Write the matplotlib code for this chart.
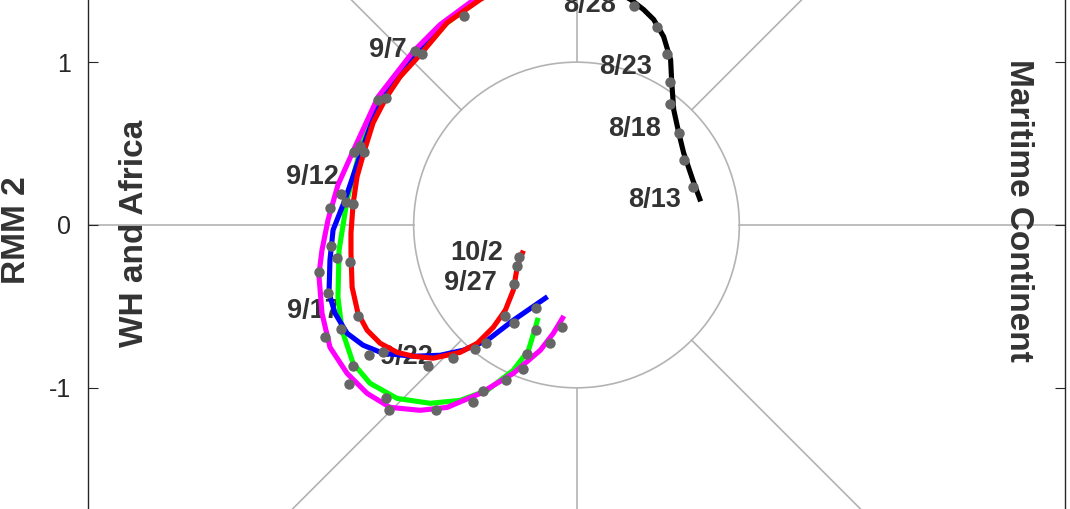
import numpy as np
import matplotlib
matplotlib.use('Agg')
import matplotlib.pyplot as plt
from matplotlib.patches import Circle

plt.rcParams['font.family'] = ['Liberation Sans', 'DejaVu Sans']
plt.rcParams['axes.unicode_minus'] = False

### RMM trajectories (RMM1, RMM2)
black_x = [0.757, 0.714, 0.658, 0.628, 0.597, 0.585, 0.578, 0.535, 0.474, 0.412, 0.332, 0.20, 0.0]
black_y = [0.160, 0.277, 0.443, 0.566, 0.708, 0.874, 1.015, 1.157, 1.262, 1.323, 1.385, 1.46, 1.52]

red_x = [-0.35, -0.591, -0.794, -0.960, -1.083, -1.169, -1.249, -1.305, -1.348, -1.372, -1.385, -1.385,
         -1.378, -1.342, -1.286, -1.206, -1.102, -1.003, -0.880, -0.714, -0.609, -0.511, -0.437, -0.388,
         -0.363, -0.332]
red_y = [1.52, 1.385, 1.243, 1.046, 0.911, 0.782, 0.628, 0.449, 0.295, 0.129, -0.049, -0.172,
         -0.382, -0.542, -0.646, -0.726, -0.782, -0.806, -0.818, -0.782, -0.726, -0.628, -0.523, -0.400,
         -0.252, -0.172]

magenta_x = [-0.40, -0.628, -0.837, -1.003, -1.218, -1.360, -1.465, -1.526, -1.563, -1.582, -1.563,
             -1.514, -1.409, -1.286, -1.145, -0.960, -0.794, -0.591, -0.388, -0.222, -0.142, -0.086]
magenta_y = [1.50, 1.385, 1.231, 1.065, 0.788, 0.480, 0.246, 0.031, -0.154, -0.308, -0.542,
             -0.751, -0.911, -1.034, -1.120, -1.138, -1.120, -1.034, -0.911, -0.769, -0.665, -0.572]

blue_x = [-0.38, -0.615, -0.812, -0.985, -1.206, -1.317, -1.422, -1.495, -1.514, -1.520, -1.483,
          -1.409, -1.311, -1.188, -1.003, -0.837, -0.695, -0.548, -0.388, -0.191]
blue_y = [1.51, 1.385, 1.237, 1.058, 0.775, 0.462, 0.154, -0.031, -0.215, -0.418, -0.542,
          -0.665, -0.738, -0.788, -0.806, -0.800, -0.769, -0.708, -0.585, -0.449]

green_x = [-0.37, -0.603, -0.800, -0.972, -1.194, -1.317, -1.409, -1.458, -1.465, -1.440, -1.372,
           -1.268, -1.102, -0.898, -0.714, -0.548, -0.388, -0.295, -0.252, -0.240]
green_y = [1.51, 1.385, 1.237, 1.052, 0.775, 0.505, 0.154, -0.154, -0.443, -0.646, -0.849,
           -0.972, -1.065, -1.095, -1.077, -1.015, -0.892, -0.769, -0.628, -0.585]

### daily points
dot_x = [0.714, 0.658, 0.628, 0.572, 0.572, 0.554, 0.492, 0.351, -0.689, -0.991, -0.948, -1.218,
         -1.169, -1.366, -1.305, -1.329, -1.514, -1.415, -1.372, -1.508, -1.471, -1.391, -1.582,
         -1.526, -1.342, -1.446, -1.545, -1.274, -1.188, -1.372, -0.911, -1.397, -1.169, -1.151,
         -0.862, -0.757, -0.622, -0.554, -0.437, -0.382, -0.246, -0.246, -0.092, -0.160, -0.302,
         -0.326, -0.431, -0.572, -0.634, -0.382, -0.363, -0.351, -1.446]
dot_y = [0.234, 0.400, 0.566, 0.745, 0.880, 1.052, 1.218, 1.342, 1.286, 1.071, 1.052, 0.769,
         0.782, 0.449, 0.449, 0.486, 0.105, 0.142, 0.129, -0.129, -0.203, -0.228, -0.289,
         -0.418, -0.560, -0.640, -0.689, -0.800, -0.782, -0.868, -0.868, -0.978, -1.065, -1.138,
         -1.138, -0.818, -0.763, -0.726, -0.560, -0.603, -0.511, -0.646, -0.628, -0.726, -0.794,
         -0.886, -0.954, -1.022, -1.089, -0.363, -0.252, -0.197, 0.191]

### date labels (right edge x, center y)
date_text = ['8/13', '8/18', '8/23', '8/28', '9/7', '9/12', '9/17', '9/22', '9/27', '10/2']
date_x = [0.640, 0.517, 0.462, 0.240, -1.040, -1.458, -1.452, -0.880, -0.486, -0.449]
date_y = [0.154, 0.591, 0.972, 1.354, 1.077, 0.295, -0.529, -0.812, -0.357, -0.172]

W, H = 1070, 509
fig = plt.figure(figsize=(W / 100, H / 100), dpi=100)
# square -3..3 box, only part of it is inside the picture
ax = fig.add_axes([88 / W, (284 - 488.5) / H, 977 / W, 977 / H])
ax.set_xlim(-3, 3)
ax.set_ylim(-3, 3)

gc = '#b3b3b3'
ax.add_patch(Circle((0, 0), 1, fill=False, ec=gc, lw=1.2, zorder=1))
ax.plot([-3, -1], [0, 0], color=gc, lw=1.2, zorder=1)
ax.plot([1, 3], [0, 0], color=gc, lw=1.2, zorder=1)
ax.plot([0, 0], [1, 3], color=gc, lw=1.2, zorder=1)
ax.plot([0, 0], [-1, -3], color=gc, lw=1.2, zorder=1)
r = np.sqrt(0.5)
for sx, sy in [(1, 1), (-1, 1), (-1, -1), (1, -1)]:
    ax.plot([sx * r, sx * 3], [sy * r, sy * 3], color=gc, lw=1.2, zorder=1)

tc = '#333333'
for t, x, y in zip(date_text, date_x, date_y):
    ax.text(x, y, t, ha='right', va='center', fontsize=19.5, fontweight='bold', color=tc, zorder=2)

lw = 3.7
ax.plot(green_x, green_y, color='#00ff00', lw=lw, zorder=3)
ax.plot(blue_x, blue_y, color='#0000ff', lw=lw, zorder=3)
ax.plot(magenta_x, magenta_y, color='#ff00ff', lw=lw, zorder=3)
ax.plot(red_x, red_y, color='#ff0000', lw=lw, zorder=3)
ax.plot(black_x, black_y, color='black', lw=lw, zorder=3)
ax.plot(dot_x, dot_y, 'o', color='#666666', ms=7.5, mec='none', zorder=4)

# phase names and y label, anchored on the baseline
ax.text(-2.665, -0.05, 'WH and Africa', rotation=90, rotation_mode='anchor',
        ha='center', va='baseline', fontsize=24, fontweight='bold', color=tc)
ax.text(2.665, 0.09, 'Maritime Continent', rotation=270, rotation_mode='anchor',
        ha='center', va='baseline', fontsize=24, fontweight='bold', color=tc)
ax.text(-3.384, -0.03, 'RMM 2', rotation=90, rotation_mode='anchor',
        ha='center', va='baseline', fontsize=24, fontweight='bold', color=tc, clip_on=False)

ax.set_yticks([-1, 0, 1])
ax.set_yticklabels(['-1', '0', '1'])
ax.set_xticks([])
ax.tick_params(direction='in', length=7.5, width=0.8, color='#262626', labelsize=18,
               labelcolor='#262626', pad=12, right=True, top=True)
for s in ax.spines.values():
    s.set_color('#262626')
    s.set_linewidth(1.0)

fig.savefig('out.png', dpi=100)
